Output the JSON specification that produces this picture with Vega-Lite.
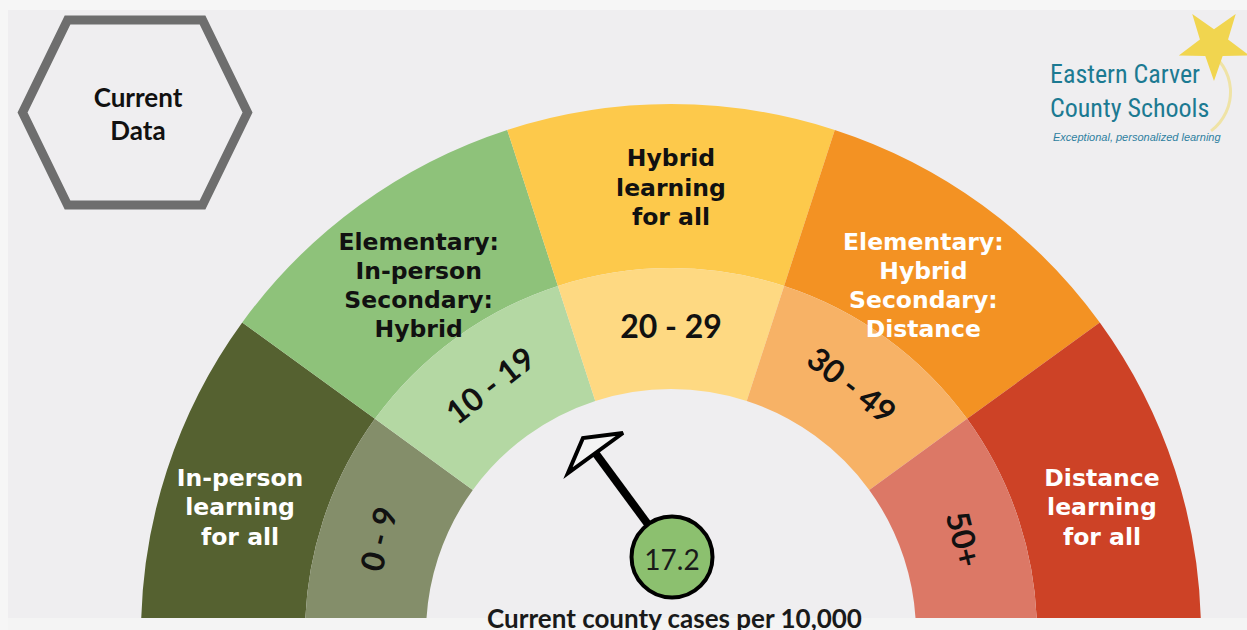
{
  "$schema": "https://vega.github.io/schema/vega-lite/v6.json",
  "width": 1239,
  "height": 608,
  "autosize": {"type": "none"},
  "padding": {"left": 8, "top": 10, "right": 0, "bottom": 12},
  "background": "#f6f6f6",
  "config": {"view": {"stroke": null, "fill": "#efeef0"}},
  "data": {"values": [
    {"lo": 0, "hi": 1, "band": "0 - 9", "policy": "In-person\nlearning\nfor all"},
    {"lo": 1, "hi": 2, "band": "10 - 19", "policy": "Elementary:\nIn-person\nSecondary:\nHybrid"},
    {"lo": 2, "hi": 3, "band": "20 - 29", "policy": "Hybrid\nlearning\nfor all"},
    {"lo": 3, "hi": 4, "band": "30 - 49", "policy": "Elementary:\nHybrid\nSecondary:\nDistance"},
    {"lo": 4, "hi": 5, "band": "50+", "policy": "Distance\nlearning\nfor all"}
  ]},
  "layer": [
    {
      "mark": {"type": "arc", "clip": true},
      "encoding": {
        "x": {"datum": 0, "type": "quantitative", "scale": {"domain": [-1.251, 1.0868], "nice": false, "zero": false}, "axis": null},
        "y": {"datum": 0, "type": "quantitative", "scale": {"domain": [0.0302, 1.1774], "nice": false, "zero": false}, "axis": null},
        "theta": {"field": "lo", "type": "quantitative", "stack": null, "scale": {"domain": [0, 5], "range": [-1.5708, 1.5708]}},
        "theta2": {"field": "hi"},
        "radius": {"datum": 1, "type": "quantitative", "scale": {"type": "linear", "domain": [0, 1], "range": [0, 530], "zero": true}},
        "radius2": {"datum": 0.6906},
        "color": {"field": "policy", "type": "nominal", "legend": null, "scale": {
          "domain": ["In-person\nlearning\nfor all", "Elementary:\nIn-person\nSecondary:\nHybrid", "Hybrid\nlearning\nfor all", "Elementary:\nHybrid\nSecondary:\nDistance", "Distance\nlearning\nfor all", "0 - 9", "10 - 19", "20 - 29", "30 - 49", "50+"],
          "range": ["#556130", "#8ec27a", "#fdc94b", "#f39223", "#cd4226", "#848e6a", "#b4d8a3", "#fed982", "#f7b266", "#dc7866"]}}
      }
    },
    {
      "mark": {"type": "arc", "clip": true},
      "encoding": {
        "x": {"datum": 0, "type": "quantitative"},
        "y": {"datum": 0, "type": "quantitative"},
        "theta": {"field": "lo", "type": "quantitative", "stack": null},
        "theta2": {"field": "hi"},
        "radius": {"datum": 0.6906, "type": "quantitative"},
        "radius2": {"datum": 0.4623},
        "color": {"field": "band", "type": "nominal", "legend": null}
      }
    },
    {
      "transform": [{"filter": "datum.lo == 0 || datum.lo == 4"}],
      "mark": {"type": "text", "font": "DejaVu Sans", "fontWeight": "bold", "fontSize": 23.5, "lineBreak": "\n", "lineHeight": 29.5, "align": "center", "baseline": "middle", "thetaOffset": 0.31416, "dy": -15},
      "encoding": {
        "x": {"datum": 0, "type": "quantitative"},
        "y": {"datum": 0, "type": "quantitative"},
        "theta": {"field": "lo", "type": "quantitative", "stack": null},
        "radius": {"datum": 0.855, "type": "quantitative"},
        "text": {"field": "policy"},
        "color": {"value": "#ffffff"}
      }
    },
    {
      "transform": [{"filter": "datum.lo == 2"}],
      "mark": {"type": "text", "font": "DejaVu Sans", "fontWeight": "bold", "fontSize": 23.5, "lineBreak": "\n", "lineHeight": 29.5, "align": "center", "baseline": "middle", "thetaOffset": 0.31416, "dy": -29.5},
      "encoding": {
        "x": {"datum": 0, "type": "quantitative"},
        "y": {"datum": 0, "type": "quantitative"},
        "theta": {"field": "lo", "type": "quantitative", "stack": null},
        "radius": {"datum": 0.84, "type": "quantitative"},
        "text": {"field": "policy"},
        "color": {"value": "#111111"}
      }
    },
    {
      "transform": [{"filter": "datum.lo == 1 || datum.lo == 3"}],
      "mark": {"type": "text", "font": "DejaVu Sans", "fontWeight": "bold", "fontSize": 23.5, "lineBreak": "\n", "lineHeight": 29, "align": "center", "baseline": "middle", "thetaOffset": 0.31416, "dy": -43.5},
      "encoding": {
        "x": {"datum": 0, "type": "quantitative"},
        "y": {"datum": 0, "type": "quantitative"},
        "theta": {"field": "lo", "type": "quantitative", "stack": null},
        "radius": {"datum": 0.81, "type": "quantitative"},
        "text": {"field": "policy"},
        "color": {"condition": {"test": "datum.lo >= 3", "value": "#ffffff"}, "value": "#111111"}
      }
    },
    {
      "mark": {"type": "text", "font": "Lato", "fontWeight": "bold", "fontSize": 32, "align": "center", "baseline": "middle", "thetaOffset": 0.31416, "color": "#111111"},
      "encoding": {
        "x": {"datum": 0, "type": "quantitative"},
        "y": {"datum": 0, "type": "quantitative"},
        "theta": {"field": "lo", "type": "quantitative", "stack": null},
        "radius": {"datum": 0.577, "type": "quantitative"},
        "angle": {"field": "lo", "type": "quantitative", "scale": {"domain": [-0.5, 4.5], "range": [-95, 95]}},
        "text": {"field": "band"}
      }
    },
    {
      "data": {"values": [{"label": "strip"}]},
      "mark": {"type": "rect", "color": "#f4f4f4", "opacity": 1},
      "encoding": {
        "x": {"datum": -1.251, "type": "quantitative"},
        "x2": {"datum": 1.0868},
        "y": {"datum": 0.0302, "type": "quantitative"},
        "y2": {"datum": -0.01}
      }
    },
    {
      "data": {"values": [{"value": 17.2}]},
      "mark": {"type": "rule", "strokeWidth": 8, "color": "#000000"},
      "encoding": {
        "x": {"datum": 0.0019, "type": "quantitative"},
        "y": {"datum": 0.1453, "type": "quantitative"},
        "x2": {"datum": -0.1425},
        "y2": {"datum": 0.3415}
      }
    },
    {
      "data": {"values": [{"value": 17.2}]},
      "mark": {"type": "point", "shape": "M-0.917,0.667L-0.417,-0.5L0.917,-0.667Z", "size": 3600, "filled": true, "fill": "#f4f4f4", "stroke": "#000000", "strokeWidth": 4, "strokeJoin": "miter", "opacity": 1},
      "encoding": {
        "x": {"datum": -0.1425, "type": "quantitative"},
        "y": {"datum": 0.3415, "type": "quantitative"}
      }
    },
    {
      "data": {"values": [{"value": 17.2}]},
      "mark": {"type": "point", "shape": "circle", "size": 6561, "filled": true, "fill": "#8cc06f", "stroke": "#000000", "strokeWidth": 4, "opacity": 1},
      "encoding": {
        "x": {"datum": 0.0019, "type": "quantitative"},
        "y": {"datum": 0.1453, "type": "quantitative"}
      }
    },
    {
      "data": {"values": [{"value": 17.2}]},
      "mark": {"type": "text", "font": "Lato", "fontSize": 28, "align": "center", "baseline": "middle", "color": "#1a1a1a"},
      "encoding": {
        "x": {"datum": 0.0019, "type": "quantitative"},
        "y": {"datum": 0.1358, "type": "quantitative"},
        "text": {"field": "value", "type": "quantitative", "format": ".1f"}
      }
    },
    {
      "data": {"values": [{"label": "Current county cases per 10,000"}]},
      "mark": {"type": "text", "font": "Lato", "fontWeight": "bold", "fontSize": 26, "align": "center", "baseline": "alphabetic", "color": "#1a1a1a"},
      "encoding": {
        "x": {"datum": 0.0066, "type": "quantitative"},
        "y": {"datum": 0.0113, "type": "quantitative"},
        "text": {"field": "label"}
      }
    },
    {
      "data": {"values": [{"label": "Current\nData"}]},
      "mark": {"type": "point", "shape": "M-1,0L-0.6,-0.822L0.6,-0.822L1,0L0.6,0.822L-0.6,0.822Z", "size": 50625, "filled": true, "fill": "#efeef0", "stroke": "#6e6e6e", "strokeWidth": 9, "strokeJoin": "miter", "opacity": 1},
      "encoding": {
        "x": {"datum": -1.0113, "type": "quantitative"},
        "y": {"datum": 0.9839, "type": "quantitative"}
      }
    },
    {
      "data": {"values": [{"label": "Current\nData"}]},
      "mark": {"type": "text", "font": "Lato", "fontWeight": "bold", "fontSize": 26, "lineBreak": "\n", "lineHeight": 33, "align": "center", "baseline": "middle", "color": "#111111", "dy": -16.5},
      "encoding": {
        "x": {"datum": -1.0057, "type": "quantitative"},
        "y": {"datum": 0.979, "type": "quantitative"},
        "text": {"field": "label"}
      }
    },
    {
      "data": {"values": [{"label": "swoosh"}]},
      "mark": {"type": "arc", "theta": 0.5, "theta2": 2.5, "radius": 47, "radius2": 50, "color": "#efe3a6"},
      "encoding": {
        "x": {"datum": 0.9642, "type": "quantitative"},
        "y": {"datum": 1.0226, "type": "quantitative"}
      }
    },
    {
      "data": {"values": [{"label": "star"}]},
      "mark": {"type": "point", "shape": "M0,-1L0.235,-0.324L0.951,-0.309L0.38,0.124L0.588,0.809L0,0.4L-0.588,0.809L-0.38,0.124L-0.951,-0.309L-0.235,-0.324Z", "size": 5476, "angle": 36, "filled": true, "fill": "#f1d54f", "opacity": 1},
      "encoding": {
        "x": {"datum": 1.0245, "type": "quantitative"},
        "y": {"datum": 1.1132, "type": "quantitative"}
      }
    },
    {
      "data": {"values": [{"label": "Eastern Carver\nCounty Schools"}]},
      "mark": {"type": "text", "font": "'Roboto Condensed', 'Liberation Sans Narrow', 'DejaVu Sans Condensed', Roboto, sans-serif", "fontSize": 26, "lineBreak": "\n", "lineHeight": 34, "align": "left", "baseline": "alphabetic", "color": "#1c7a92"},
      "encoding": {
        "x": {"datum": 0.7151, "type": "quantitative"},
        "y": {"datum": 1.0396, "type": "quantitative"},
        "text": {"field": "label"}
      }
    },
    {
      "data": {"values": [{"label": "Exceptional, personalized learning"}]},
      "mark": {"type": "text", "font": "Liberation Sans", "fontStyle": "italic", "fontSize": 11, "align": "left", "baseline": "alphabetic", "color": "#2e7fa0"},
      "encoding": {
        "x": {"datum": 0.7208, "type": "quantitative"},
        "y": {"datum": 0.9302, "type": "quantitative"},
        "text": {"field": "label"}
      }
    }
  ]
}
